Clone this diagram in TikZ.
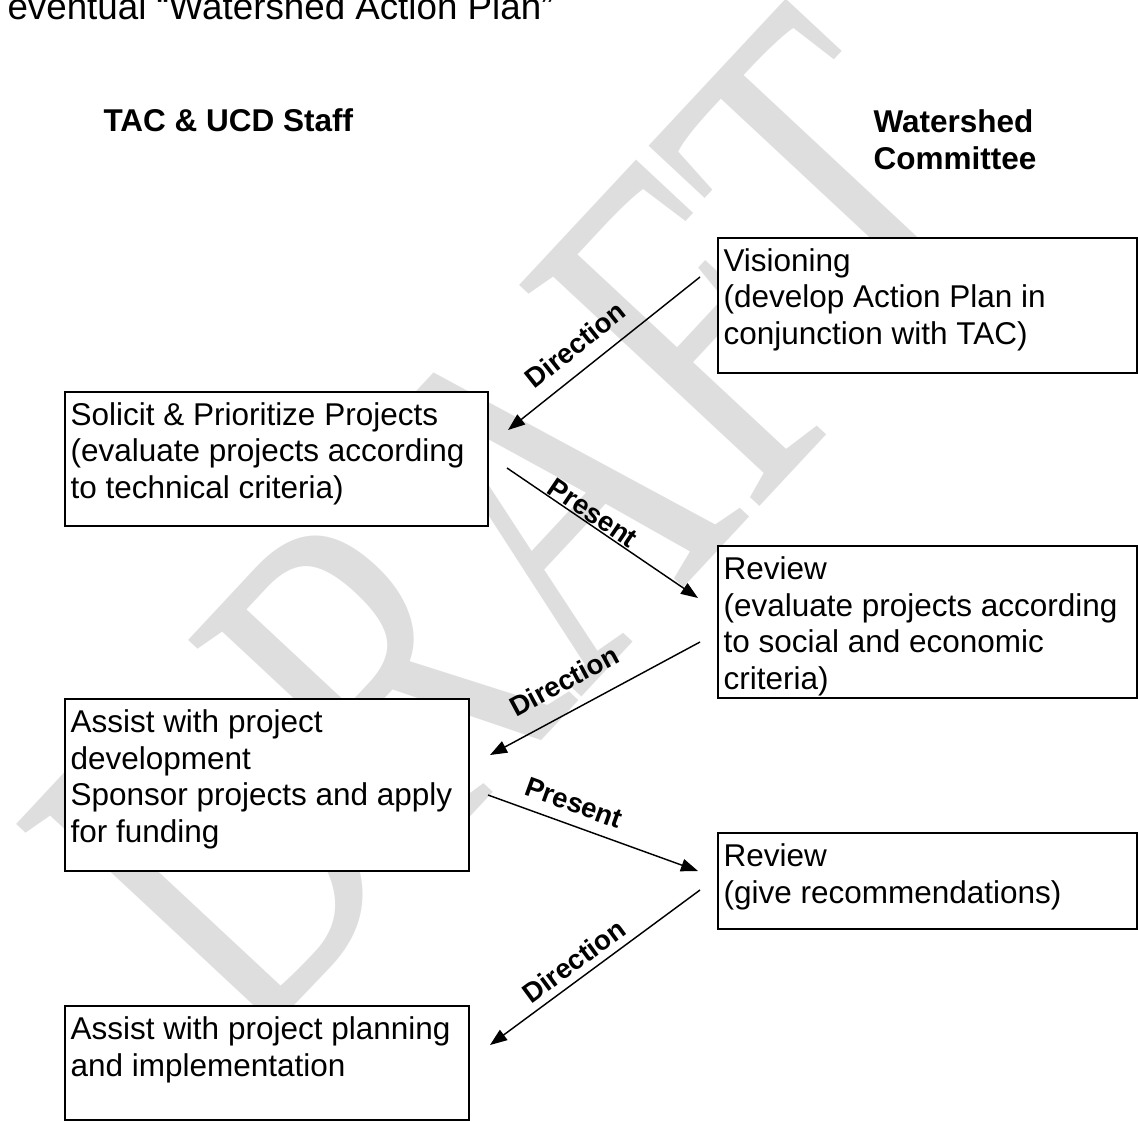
\documentclass[tikz,border=0pt]{standalone}
\usepackage{fontspec}
\setmainfont{Liberation Sans}
\newfontfamily\wmfont{Liberation Serif}
\usetikzlibrary{arrows.meta,fit}
\begin{document}
\begin{tikzpicture}[x=0.381pt, y=-0.381pt,
  box/.style={draw, line width=0.75pt, fill=white, inner sep=0pt, outer sep=0pt},
  boxtext/.style={anchor=north west, align=left, inner sep=0pt, font=\fontsize{12}{14}\selectfont},
  flow/.style={line width=0.55pt, -{Triangle[length=6.5pt,width=4.8pt]}},
  lbl/.style={font=\bfseries\fontsize{10.5}{12}\selectfont, inner sep=0pt},
  hdr/.style={font=\bfseries\fontsize{12}{14.3}\selectfont, align=left, inner sep=0pt},
  wm/.style={font=\wmfont\fontsize{190}{190}\selectfont, text=black!13, inner sep=0pt}]
\useasboundingbox (0,0) rectangle (1138,1121);
% watermark
\node[wm, rotate=47] (draft) at (519,524) {\scalebox{0.7}[1]{DRAFT}};
% title and headers
\node[anchor=base west, inner sep=0pt, font=\fontsize{14}{16}\selectfont] (title) at (7,20) {eventual “Watershed Action Plan”};
\node[hdr, anchor=base west] (tac) at (103,131.7) {TAC \& UCD Staff};
\node[hdr, anchor=north west] (wc) at (873,105.4) {\strut Watershed\\Committee};
% boxes
\node[box, fit={(718,238) (1136.5,373)}] (vis) {};
\node[box, fit={(65,392) (488,526)}] (sol) {};
\node[box, fit={(718,546) (1136.5,698)}] (rev1) {};
\node[box, fit={(65,699) (469,871)}] (ass1) {};
\node[box, fit={(718,833) (1136.5,929)}] (rev2) {};
\node[box, fit={(65,1006) (469,1120)}] (ass2) {};
% box texts
\node[boxtext] (visT) at ([shift={(5,7)}]vis.north west) {\strut Visioning\\(develop Action Plan in\\conjunction with TAC)};
\node[boxtext] (solT) at ([shift={(5,7)}]sol.north west) {\strut Solicit \& Prioritize Projects\\(evaluate projects according\\to technical criteria)};
\node[boxtext] (rev1T) at ([shift={(5,7)}]rev1.north west) {\strut Review\\(evaluate projects according\\to social and economic\\criteria)};
\node[boxtext] (ass1T) at ([shift={(5,7)}]ass1.north west) {\strut Assist with project\\development\\Sponsor projects and apply\\for funding};
\node[boxtext] (rev2T) at ([shift={(5,7)}]rev2.north west) {\strut Review\\(give recommendations)};
\node[boxtext] (ass2T) at ([shift={(5,7)}]ass2.north west) {\strut Assist with project planning\\and implementation};
% connector end points
\coordinate (d1s) at (700,277);  \coordinate (d1e) at (508,430);
\coordinate (p1s) at (507,468);  \coordinate (p1e) at (698,598);
\coordinate (d2s) at (700,642);  \coordinate (d2e) at (490,755);
\coordinate (p2s) at (488,795);  \coordinate (p2e) at (698,871);
\coordinate (d3s) at (700,890);  \coordinate (d3e) at (490,1045);
\draw[flow] (d1s) -- (d1e);
\draw[flow] (p1s) -- (p1e);
\draw[flow] (d2s) -- (d2e);
\draw[flow] (p2s) -- (p2e);
\draw[flow] (d3s) -- (d3e);
% labels
\node[lbl, rotate=38.6] (l1) at (575,345) {Direction};
\node[lbl, rotate=-34.2] (l2) at (593,513) {Present};
\node[lbl, rotate=28.3] (l3) at (564,681) {Direction};
\node[lbl, rotate=-19.9] (l4) at (574,803) {Present};
\node[lbl, rotate=36.4] (l5) at (574,961) {Direction};
\end{tikzpicture}
\end{document}
